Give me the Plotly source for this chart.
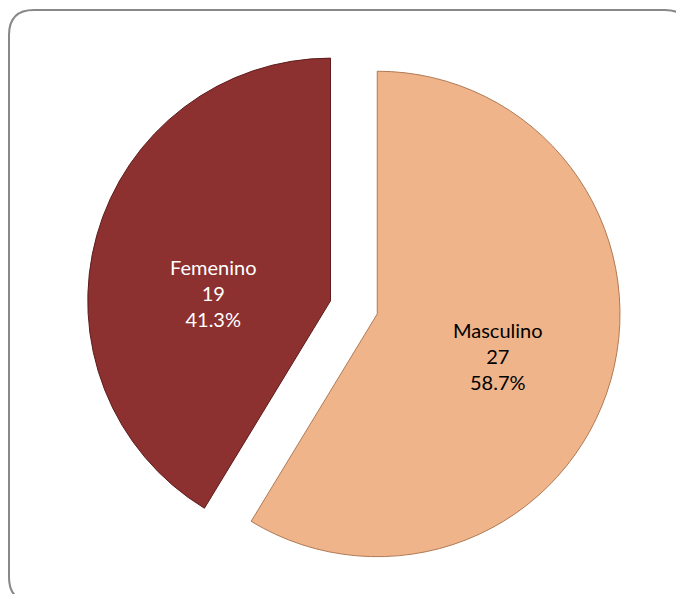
import plotly.graph_objects as go

labels = ["Masculino", "Femenino"]
values = [27, 19]
colors = ["#EFB48A", "#8C3030"]
text_colors = ["#000000", "#FFFFFF"]
# label centre positions (pixels) as placed in the reference
label_pos = [(498, 356), (213, 293)]

W, H = 676, 594

def px(x):
    return x / W

def py(y):
    return 1 - y / H

# rounded border path (pixel coords converted to paper)
x0, y0, x1, y1, r = 9, 10, 690, 602, 25
pts = [
    ("M", x0 + r, y0),
    ("L", x1 - r, y0),
    ("Q", x1, y0, x1, y0 + r),
    ("L", x1, y1 - r),
    ("Q", x1, y1, x1 - r, y1),
    ("L", x0 + r, y1),
    ("Q", x0, y1, x0, y1 - r),
    ("L", x0, y0 + r),
    ("Q", x0, y0, x0 + r, y0),
]
path = ""
for p in pts:
    cmd = p[0]
    coords = p[1:]
    s = []
    for i in range(0, len(coords), 2):
        s.append(f"{px(coords[i]):.5f},{py(coords[i+1]):.5f}")
    path += cmd + " " + " ".join(s) + " "
path += "Z"

fig = go.Figure(
    go.Pie(
        labels=labels,
        values=values,
        sort=False,
        direction="clockwise",
        rotation=0,
        pull=[0.1, 0.1],
        marker=dict(colors=colors, line=dict(color=["#B07A55", "#5E1C1C"], width=1)),
        textinfo="none",
        domain=dict(x=[0.10, 0.947], y=[0.033, 0.932]),
        hoverinfo="label+value+percent",
        showlegend=False,
    )
)

total = sum(values)
annotations = []
for lab, val, col, (lx, ly) in zip(labels, values, text_colors, label_pos):
    pct = 100.0 * val / total
    annotations.append(
        dict(
            x=px(lx),
            y=py(ly),
            xref="paper",
            yref="paper",
            text=f"{lab}<br>{val}<br>{pct:.1f}%",
            showarrow=False,
            xanchor="center",
            yanchor="middle",
            align="center",
            font=dict(family="Lato, Carlito, Calibri, sans-serif", size=20, color=col),
        )
    )

fig.update_layout(
    width=W,
    height=H,
    margin=dict(l=0, r=0, t=0, b=0),
    paper_bgcolor="white",
    plot_bgcolor="white",
    showlegend=False,
    annotations=annotations,
    shapes=[
        dict(
            type="path",
            xref="paper",
            yref="paper",
            path=path,
            line=dict(color="#888888", width=2),
            fillcolor="rgba(0,0,0,0)",
            layer="below",
        )
    ],
)

fig.write_html(
    "out.html",
    config={"displayModeBar": False},
    post_script="document.body.style.margin='0';document.body.style.overflow='hidden';",
)
